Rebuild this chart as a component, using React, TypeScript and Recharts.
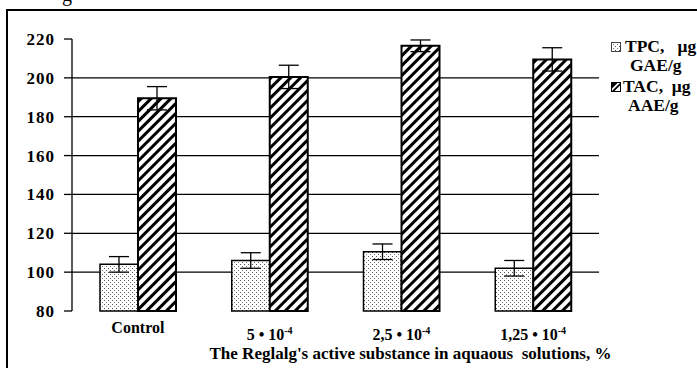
import { BarChart, Bar, XAxis, YAxis, CartesianGrid, ErrorBar, Legend } from 'recharts'

const categories = ['Control', '5 • 10', '2,5 • 10', '1,25 • 10']
const exponents = ['', '-4', '-4', '-4']
const tpc = [104, 106, 110.5, 102]
const tpcErr = [4, 4, 4, 4]
const tac = [189.5, 200.5, 216.5, 209.5]
const tacErr = [6, 6, 3, 6]
const yTicks = [80, 100, 120, 140, 160, 180, 200, 220]
const edgeTicks = [0, 1, 2, 3, 4]
const xTitle = "The Reglalg's active substance in aquaous  solutions, %"

const data = categories.map((c, i) => ({
  name: c,
  exp: exponents[i],
  tpc: tpc[i],
  tpcErr: tpcErr[i],
  tac: tac[i],
  tacErr: tacErr[i],
}))

const serif = '"Liberation Serif", "Times New Roman", serif'

function CategoryTick(props: any) {
  const { x, y, payload, index } = props
  const exp = exponents[index]
  const dy = exp ? 21 : 14
  return (
    <text x={x} y={y + dy} textAnchor="middle" fontFamily={serif} fontWeight="bold" fontSize={16} fill="#000">
      {payload.value}
      {exp && <tspan dy={-6} fontSize={10}>{exp}</tspan>}
    </text>
  )
}

function AxisTitle(props: any) {
  const { viewBox } = props
  return (
    <text x={viewBox.x + viewBox.width / 2 + 75} y={viewBox.y + 48} textAnchor="middle" fontFamily={serif} fontWeight="bold" fontSize={17} fill="#000" style={{ whiteSpace: 'pre' }}>
      {xTitle}
    </text>
  )
}

function GridLine(props: any) {
  const { x1, x2, y1, y2, index } = props
  // no line on 220 (top) or 80 (axis)
  if (index === 0 || index === yTicks.length - 1) return <g key={props.key} />
  return <line key={props.key} x1={x1} x2={x2} y1={y1} y2={y2} stroke="#000" strokeWidth={1.3} />
}

function LegendBox() {
  const txt = { fontFamily: serif, fontWeight: 'bold' as const, fontSize: 17.5, color: '#000', whiteSpace: 'nowrap' as const }
  return (
    <div style={{ lineHeight: '19px' }}>
      <div style={{ ...txt, display: 'flex', alignItems: 'center' }}>
        <svg width={10} height={10} style={{ marginRight: 4 }}>
          <rect x={0.5} y={0.5} width={9} height={9} fill="url(#dots)" stroke="#444" />
        </svg>
        TPC,&nbsp;&nbsp;&nbsp;μg
      </div>
      <div style={{ ...txt, paddingLeft: 19 }}>GAE/g</div>
      <div style={{ ...txt, display: 'flex', alignItems: 'center', marginTop: 2 }}>
        <svg width={10} height={10} style={{ marginRight: 2 }}>
          <rect x={0.5} y={0.5} width={9} height={9} fill="#fff" stroke="#000" />
          <path d="M0.5 9.5 L9.5 0.5 L9.5 3 L3 9.5 Z" fill="#000" />
          <path d="M0.5 7 L7 0.5 L0.5 0.5 Z" fill="#000" />
        </svg>
        TAC,&nbsp;&nbsp;μg
      </div>
      <div style={{ ...txt, paddingLeft: 17 }}>AAE/g</div>
    </div>
  )
}

export default function App() {
  return (
    <div style={{ position: 'fixed', left: 0, top: 0, width: 697, height: 368, overflow: 'hidden', background: '#fff' }}>
      <div style={{ position: 'absolute', left: 6, top: 9, width: 720, height: 400, border: '2px solid #000', boxSizing: 'border-box' }} />
      <div style={{ position: 'absolute', left: 62, top: -17, fontFamily: serif, fontSize: 20, lineHeight: '23px' }}>g</div>
      <BarChart
        width={697}
        height={368}
        data={data}
        margin={{ top: 39, right: 98, bottom: 0, left: 0 }}
        barSize={38}
        barGap={0}
        style={{ position: 'absolute', left: 0, top: 0 }}
      >
        <defs>
          <pattern id="dots" width={4} height={4} patternUnits="userSpaceOnUse">
            <rect width={4} height={4} fill="#fff" />
            <rect x={0} y={0} width={1} height={1} fill="#555" />
            <rect x={2} y={2} width={1} height={1} fill="#777" />
          </pattern>
          <pattern id="hatch" width={7} height={7} patternUnits="userSpaceOnUse" patternTransform="rotate(45)">
            <rect width={7} height={7} fill="#fff" />
            <rect width={3} height={7} fill="#000" />
          </pattern>
        </defs>
        <CartesianGrid vertical={false} horizontal={GridLine} />
        <XAxis
          xAxisId="edges"
          type="number"
          domain={[0, 4]}
          ticks={edgeTicks}
          allowDataOverflow
          height={0}
          tickSize={7}
          tickFormatter={() => ''}
          axisLine={{ stroke: '#000', strokeWidth: 1.5 }}
          tickLine={{ stroke: '#000', strokeWidth: 1.3 }}
        />
        <XAxis dataKey="name" height={57} axisLine={false} tickLine={false} tick={<CategoryTick />} interval={0} label={<AxisTitle />} />
        <YAxis
          width={72}
          domain={[80, 220]}
          ticks={yTicks}
          interval={0}
          tickSize={8}
          tickMargin={9}
          axisLine={{ stroke: '#000', strokeWidth: 1.3 }}
          tickLine={{ stroke: '#000', strokeWidth: 1.3 }}
          tick={{ fill: '#000', fontFamily: serif, fontWeight: 'bold', fontSize: 17, letterSpacing: 1 }}
        />
        <Legend verticalAlign="middle" layout="horizontal" content={<LegendBox />} wrapperStyle={{ position: 'absolute', left: 611, top: 37, width: 120, height: 80 }} />
        <Bar dataKey="tpc" fill="url(#dots)" stroke="#000" strokeWidth={1.5} isAnimationActive={false}>
          <ErrorBar dataKey="tpcErr" width={10} stroke="#000" strokeWidth={1.3} />
        </Bar>
        <Bar dataKey="tac" fill="url(#hatch)" stroke="#000" strokeWidth={2} isAnimationActive={false}>
          <ErrorBar dataKey="tacErr" width={10} stroke="#000" strokeWidth={1.3} />
        </Bar>
      </BarChart>
    </div>
  )
}
